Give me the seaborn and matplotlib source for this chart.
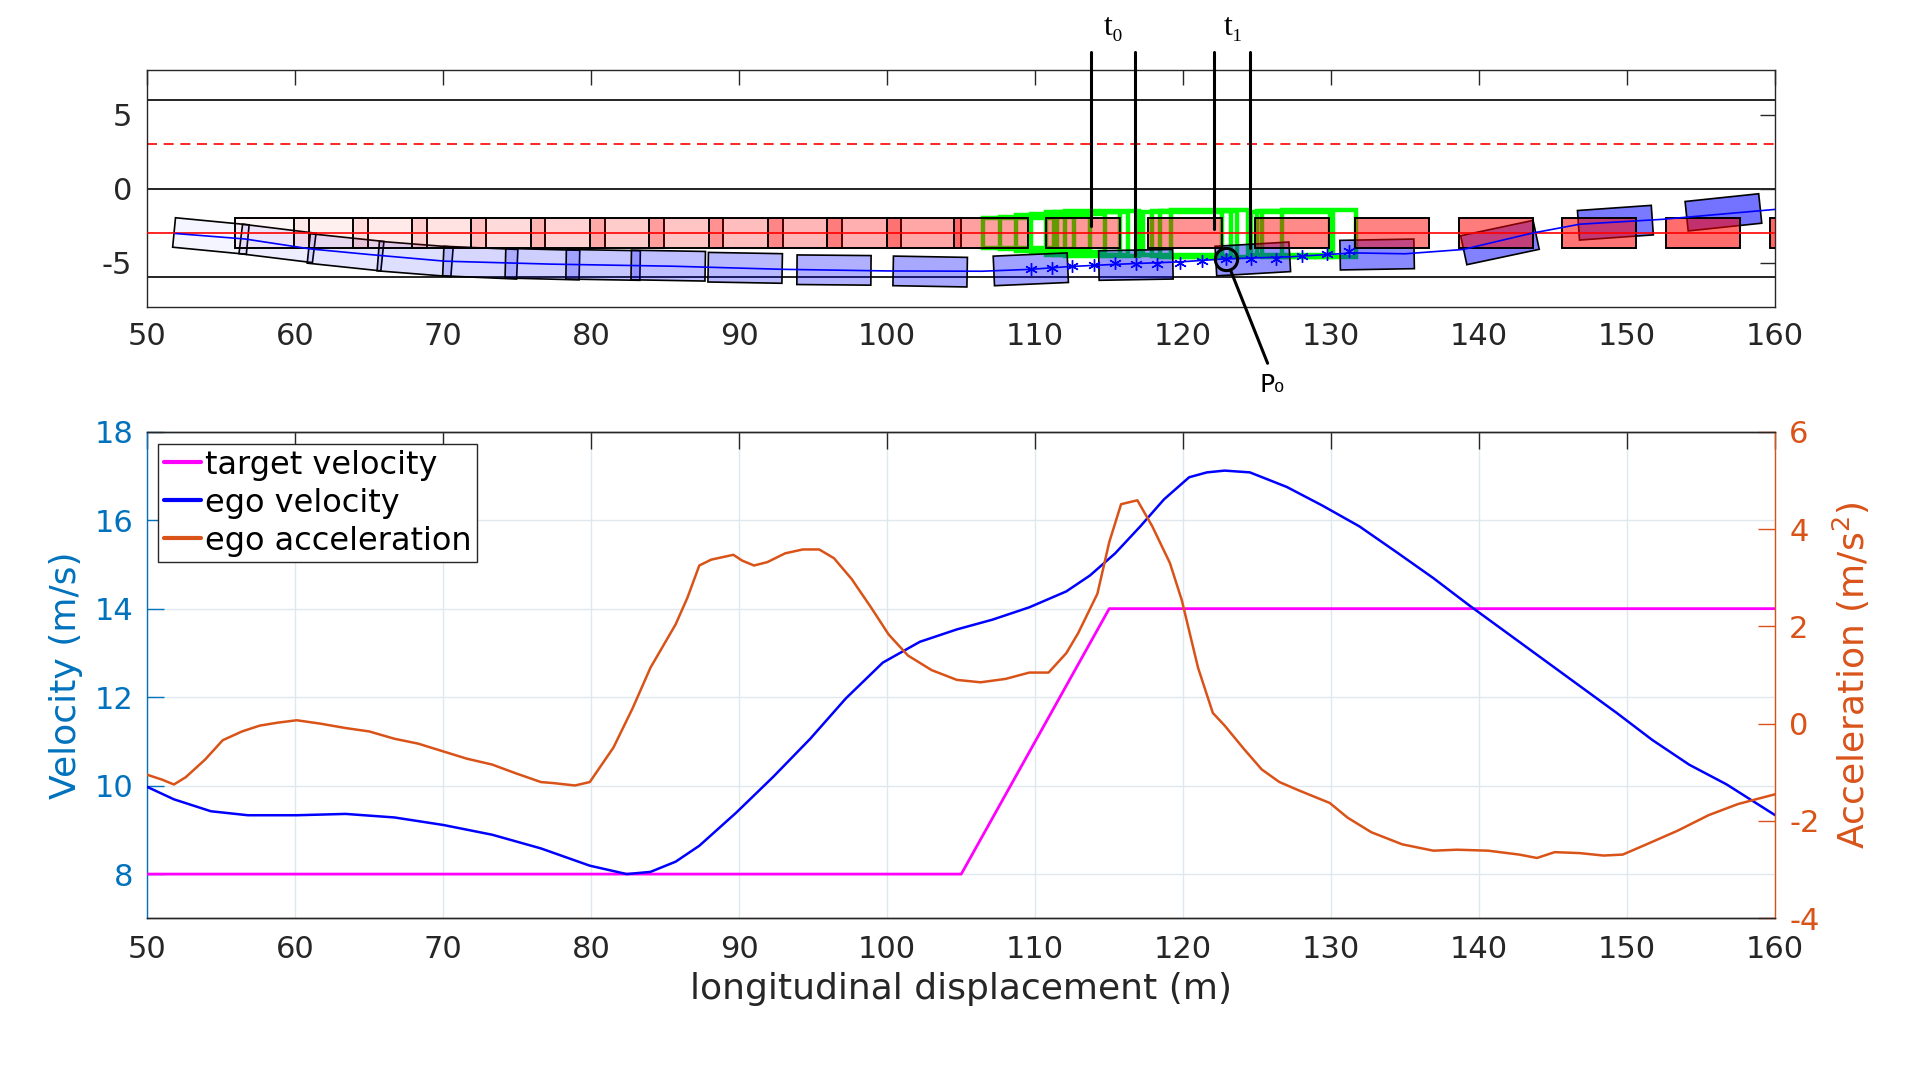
import numpy as np
import pandas as pd
import seaborn as sns
import matplotlib.pyplot as plt
from matplotlib.patches import Rectangle
from matplotlib.lines import Line2D

# ---------------- bottom panel data ----------------
vel_x = [50, 51.8, 54.3, 56.8, 60.1, 63.4, 66.7, 70, 73.3, 76.6, 79.9, 82.4, 84, 85.7,
         87.3, 89.8, 92.3, 94.8, 97.2, 99.7, 102.2, 104.7, 107.1, 109.6, 112.1, 113.7,
         115.4, 117.1, 118.7, 120.4, 121.6, 122.8, 124.5, 127, 129.4, 131.9, 134.4,
         136.9, 139.3, 141.8, 144.3, 146.8, 149.3, 151.7, 154.2, 156.7, 160]
vel_v = [9.97, 9.69, 9.42, 9.33, 9.33, 9.36, 9.28, 9.11, 8.89, 8.58, 8.19, 8.0, 8.05, 8.28,
         8.64, 9.39, 10.2, 11.06, 11.97, 12.78, 13.25, 13.53, 13.75, 14.03, 14.39, 14.75,
         15.25, 15.86, 16.47, 16.97, 17.08, 17.12, 17.08, 16.75, 16.33, 15.86, 15.28,
         14.69, 14.08, 13.47, 12.86, 12.25, 11.64, 11.03, 10.47, 10.03, 9.33]

acc_x = [50, 51, 51.8, 52.6, 53.9, 55.1, 56.4, 57.6, 58.8, 60.1, 61.7, 63.4, 65, 66.7,
         68.3, 70, 71.6, 73.3, 74.9, 76.6, 77.4, 78.9, 79.9, 81.5, 82.8, 84, 85.7, 86.5,
         87.3, 88.1, 89.6, 90.2, 91, 91.9, 93.1, 94.3, 95.4, 96.4, 97.6, 98.9, 100.1,
         101.4, 103, 104.7, 106.3, 108, 109.6, 110.9, 112.1, 112.9, 114.2, 115, 115.8,
         116.9, 117.9, 119.1, 119.9, 121, 122, 122.8, 124.1, 125.3, 126.5, 127.8, 129.9,
         131.1, 132.7, 134.8, 136.9, 138.5, 140.6, 142.7, 143.9, 145.1, 146.8, 148.4,
         149.7, 151.3, 153.4, 155.5, 157.5, 160]
acc_a = [-1.05, -1.15, -1.25, -1.1, -0.74, -0.34, -0.16, -0.04, 0.02, 0.07, 0.0, -0.09,
         -0.16, -0.31, -0.41, -0.57, -0.72, -0.84, -1.02, -1.2, -1.22, -1.27, -1.2, -0.49,
         0.32, 1.15, 2.04, 2.59, 3.25, 3.37, 3.47, 3.35, 3.25, 3.32, 3.5, 3.58, 3.58, 3.4,
         2.97, 2.39, 1.83, 1.4, 1.1, 0.9, 0.85, 0.92, 1.05, 1.05, 1.45, 1.86, 2.67, 3.73,
         4.51, 4.59, 4.06, 3.3, 2.54, 1.15, 0.22, -0.04, -0.52, -0.94, -1.2, -1.37, -1.63,
         -1.93, -2.23, -2.48, -2.61, -2.59, -2.61, -2.69, -2.76, -2.64, -2.66, -2.71,
         -2.69, -2.48, -2.2, -1.88, -1.65, -1.45]

tgt_x = [50, 105, 115, 160]
tgt_v = [8, 8, 14, 14]

# ---------------- top panel data ----------------
lane_lines = [6, 0, -6]
lane_dash = 3
tgt_lane = -3

red_rear = [55.9, 59.9, 63.9, 67.9, 71.9, 75.9, 79.9, 83.9, 87.95, 91.95, 95.9, 99.95,
            104.5, 110.7, 117.6, 124.85, 131.6, 138.6, 145.6, 152.6, 159.65]

ego_cx = [54.3, 58.8, 63.4, 68.1, 72.5, 76.7, 80.8, 85.2, 90.4, 96.4, 102.9, 109.7,
          116.8, 124.7, 133.1, 141.4, 149.2, 156.5]
ego_cy = [-3.2, -3.7, -4.3, -4.75, -5.0, -5.1, -5.15, -5.2, -5.35, -5.5, -5.6, -5.45,
          -5.15, -4.75, -4.45, -3.64, -2.3, -1.6]
ego_ang = [-5.5, -7, -6, -4.5, -2.5, -1.5, -1, -1, -1, -0.5, -1, 2.5, 1, 3.3, 1, 12, 4, 6]

path_x = [51.9, 56.6, 61.0, 65, 70.1, 77.3, 85.5, 92.9, 100, 106.4, 109.7, 112.2, 115.5,
          119.9, 122.9, 127.3, 131.5, 135, 138.9, 143.6, 146.8, 152.4, 160]
path_y = [-3.03, -3.4, -4.07, -4.45, -4.9, -5.1, -5.24, -5.45, -5.56, -5.58, -5.45, -5.27,
          -5.11, -4.94, -4.74, -4.6, -4.34, -4.4, -4.11, -3.0, -2.4, -2.07, -1.4]

mk_x = [109.7, 111.1, 112.5, 114.0, 115.4, 116.8, 118.25, 119.8, 121.3, 122.9, 124.6,
        126.3, 128.0, 129.7, 131.2]
mk_y = [-5.45, -5.38, -5.22, -5.16, -5.0, -5.1, -5.1, -5.0, -4.9, -4.74, -4.78, -4.74,
        -4.56, -4.4, -4.2]

g_rear = [106.5, 107.6, 108.7, 109.7, 110.7, 111.3, 112.0, 117.3, 117.9, 118.4, 119.2,
          124.6, 125.0, 125.35, 126.7]
g_front = [111.5, 112.6, 113.7, 114.7, 115.7, 116.3, 117.0, 122.65, 123.2, 123.6, 124.4,
           129.9, 130.0, 130.1, 131.7]
g_bot = [-4.0, -4.1, -4.2, -4.3, -4.45, -4.5, -4.55, -4.5, -4.55, -4.6, -4.65, -4.5,
         -4.55, -4.6, -4.65]
g_top = [-2.0, -1.9, -1.8, -1.7, -1.6, -1.55, -1.5, -1.55, -1.5, -1.5, -1.45, -1.55,
         -1.5, -1.5, -1.45]

t_line_x = [113.74, 116.76, 122.1, 124.54]
t_line_bot = [-2.5, -4.56, -2.7, -4.0]
t_line_top = 9.27
t_lbl = ['t₀', 't₁']
t_lbl_x = [115.3, 123.4]

p0_xy = (122.9, -4.72)
p0_tail = (125.7, -11.8)
p0_lbl_xy = (126.0, -13.3)

BLUE_M = '#0072bd'
ORANGE_M = '#d95319'
TXT = '#262626'

sns.set_theme(style='white')
plt.rcParams['font.family'] = ['DejaVu Sans']
plt.rcParams['axes.unicode_minus'] = False

fig = plt.figure(figsize=(19.2, 10.8), dpi=100)

# ================= top panel =================
axt = fig.add_axes([0.0767, 0.7157, 0.8479, 0.2192])
axt.set_xlim(50, 160)
axt.set_ylim(-8, 8)

for yl in lane_lines:
    axt.axhline(yl, color='black', lw=1.2, zorder=0.5)
axt.axhline(lane_dash, color='red', lw=1.2, ls=(0, (6, 4)), zorder=0.5)

# predicted target boxes (green outlines)
for x0, x1, y0, y1 in zip(g_rear, g_front, g_bot, g_top):
    axt.add_patch(Rectangle((x0, y0), x1 - x0, y1 - y0, fill=False,
                            ec='#00ff00', lw=3.2, zorder=1))

# ego boxes
ego_alpha = np.linspace(0.04, 0.55, len(ego_cx))
for cx, cy, an, a in zip(ego_cx, ego_cy, ego_ang, ego_alpha):
    axt.add_patch(Rectangle((cx - 2.5, cy - 1), 5, 2, angle=an, rotation_point='center',
                            fc=(0, 0, 1, a), ec='black', lw=1.2, zorder=2))

# target boxes
red_alpha = np.linspace(0.03, 0.6, len(red_rear))
for x0, a in zip(red_rear, red_alpha):
    axt.add_patch(Rectangle((x0, tgt_lane - 1), 5, 2, fc=(1, 0, 0, a), ec='black',
                            lw=1.4, zorder=3))

axt.axhline(tgt_lane, color='red', lw=1.2, zorder=4)
sns.lineplot(x=path_x, y=path_y, sort=False, color='blue', lw=1.2, ax=axt, zorder=4)
axt.plot(mk_x, mk_y, ls='none', marker=(6, 2, 0), ms=9, mew=1.0, color='blue', zorder=4)

# t0 / t1 markers
for xv, yb in zip(t_line_x, t_line_bot):
    axt.plot([xv, xv], [yb, t_line_top], color='black', lw=2.2, clip_on=False, zorder=6)
for lb, xv in zip(t_lbl, t_lbl_x):
    axt.text(xv, 10.9, lb, ha='center', va='center', fontsize=23,
             family=['Liberation Serif', 'DejaVu Serif'], color='black', clip_on=False)

# P0 marker
axt.plot([p0_xy[0]], [p0_xy[1]], marker='o', ms=16, mfc='none', mec='black', mew=2.2,
         zorder=6)
axt.plot([p0_xy[0] + 0.3, p0_tail[0]], [p0_xy[1] - 0.8, p0_tail[1]], color='black',
         lw=2.2, clip_on=False, zorder=6)
axt.text(p0_lbl_xy[0], p0_lbl_xy[1], 'P₀', ha='center', va='center', fontsize=18,
         color='black', clip_on=False)

axt.set_xticks(range(50, 161, 10))
axt.set_yticks([-5, 0, 5])
axt.tick_params(direction='in', length=11, width=1, top=True, right=True,
                labelsize=22, colors=TXT, pad=11)
for s in axt.spines.values():
    s.set_color(TXT)
    s.set_linewidth(1.0)
axt.set_xlabel('')
axt.set_ylabel('')

# ================= bottom panel =================
ax = fig.add_axes([0.0767, 0.1497, 0.8479, 0.4506])
ax2 = ax.twinx()

sns.lineplot(x=tgt_x, y=tgt_v, color='#ff00ff', lw=2.0, ax=ax, zorder=3)
sns.lineplot(x=vel_x, y=vel_v, color='#0000ff', lw=1.8, ax=ax, zorder=3)
sns.lineplot(x=acc_x, y=acc_a, color=ORANGE_M, lw=1.8, ax=ax2, zorder=3)

ax.set_xlim(50, 160)
ax.set_ylim(7, 18)
ax.set_yticks(range(8, 19, 2))
ax.set_xticks(range(50, 161, 10))
ax2.set_ylim(-4, 6)
ax2.set_yticks(range(-4, 7, 2))

ax.grid(True, color='#dfe7ef', lw=1.0)
ax.set_axisbelow(True)

ax.tick_params(axis='x', direction='in', length=12, width=1, top=True, labelsize=22,
               colors=TXT, pad=12)
ax.tick_params(axis='y', direction='in', length=12, width=1, labelsize=22,
               colors=BLUE_M, pad=10)
ax2.tick_params(axis='y', direction='in', length=12, width=1, labelsize=22,
                colors=ORANGE_M, pad=10)

ax.spines['left'].set_color(BLUE_M)
ax.spines['right'].set_visible(False)
ax.spines['top'].set_color(TXT)
ax.spines['bottom'].set_color(TXT)
ax2.spines['left'].set_visible(False)
ax2.spines['right'].set_color(ORANGE_M)
ax2.spines['top'].set_color(TXT)
ax2.spines['bottom'].set_color(TXT)
for s in list(ax.spines.values()) + list(ax2.spines.values()):
    s.set_linewidth(1.0)

ax.set_xlabel('longitudinal displacement (m)', fontsize=26, color=TXT, labelpad=6)
ax.set_ylabel('Velocity (m/s)', fontsize=26, color=BLUE_M, labelpad=8)
ax2.set_ylabel('Acceleration (m/s$^2$)', fontsize=26, color=ORANGE_M, labelpad=8)

handles = [Line2D([], [], color='#ff00ff', lw=3),
           Line2D([], [], color='#0000ff', lw=3),
           Line2D([], [], color=ORANGE_M, lw=3)]
leg = ax2.legend(handles, ['target velocity', 'ego velocity', 'ego acceleration'],
                 loc='upper left', bbox_to_anchor=(0.0068, 0.975), borderaxespad=0,
                 fontsize=23, handlelength=1.15, handletextpad=0.12, labelspacing=0.22,
                 borderpad=0.18, fancybox=False, framealpha=1, edgecolor=TXT)
leg.get_frame().set_linewidth(1.0)
for t in leg.get_texts():
    t.set_color('black')

fig.savefig('out.png', dpi=100)
